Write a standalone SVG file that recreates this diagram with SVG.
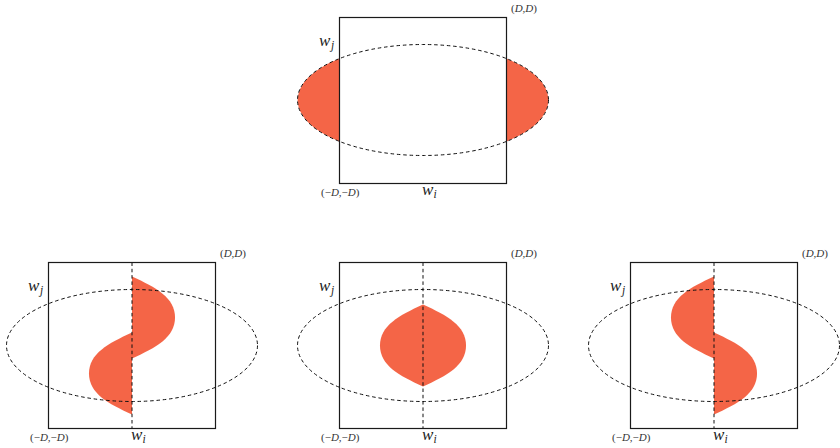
<svg xmlns="http://www.w3.org/2000/svg" width="840" height="448" viewBox="0 0 840 448">
<defs>
<style>
.box{fill:none;stroke:#1a1a1a;stroke-width:1.2}
.dash{fill:none;stroke:#111;stroke-width:1;stroke-dasharray:3.5 2.8}
.red{fill:#f46547;stroke:none}
.w{font-family:"Liberation Serif","DejaVu Serif",serif;font-style:italic;font-size:17px;fill:#222}
.sub{font-family:"Liberation Serif","DejaVu Serif",serif;font-style:italic;font-size:11.5px;fill:#222}
.sm{font-family:"Liberation Serif","DejaVu Serif",serif;font-style:italic;font-size:11px;fill:#333}
.up{font-style:normal}
</style>
<path id="rhalf" d="M0,-41 C24,-30 43,-20 43,0 C43,20 24,30 0,41 Z"/>
<path id="lhalf" d="M0,-41 C-24,-30 -43,-20 -43,0 C-43,20 -24,30 0,41 Z"/>
</defs>

<!-- Top panel -->
<g id="panel-top">
<path class="red" d="M339.5,58.6 A125.5,55.5 0 0 0 339.5,141.4 Z"/>
<path class="red" d="M506.5,58.6 A125.5,55.5 0 0 1 506.5,141.4 Z"/>
<ellipse class="dash" cx="423" cy="100" rx="125.5" ry="55.5"/>
<rect class="box" x="339.5" y="17.5" width="167" height="166"/>
<text class="sm" x="511" y="11.5"><tspan class="up">(</tspan>D,D<tspan class="up">)</tspan></text>
<text class="sm" x="321" y="196"><tspan class="up">(−</tspan>D,<tspan class="up">−</tspan>D<tspan class="up">)</tspan></text>
<text class="w" x="319" y="46">w</text><text class="sub" x="331" y="49">j</text>
<text class="w" x="422" y="195">w</text><text class="sub" x="433.5" y="198">i</text>
</g>

<!-- Bottom left panel -->
<g id="panel-left">
<use href="#rhalf" class="red" x="132" y="317.5"/>
<use href="#lhalf" class="red" x="132" y="373.5"/>
<ellipse class="dash" cx="132" cy="345.5" rx="125.5" ry="56"/>
<line class="dash" x1="132" y1="262.5" x2="132" y2="428.5"/>
<rect class="box" x="48.5" y="262.5" width="167" height="166"/>
<text class="sm" x="220" y="256.5"><tspan class="up">(</tspan>D,D<tspan class="up">)</tspan></text>
<text class="sm" x="30" y="441"><tspan class="up">(−</tspan>D,<tspan class="up">−</tspan>D<tspan class="up">)</tspan></text>
<text class="w" x="28" y="291">w</text><text class="sub" x="40" y="294">j</text>
<text class="w" x="131" y="440">w</text><text class="sub" x="142.5" y="443">i</text>
</g>

<!-- Bottom middle panel -->
<g id="panel-middle">
<use href="#rhalf" class="red" x="423" y="345.5"/>
<use href="#lhalf" class="red" x="423" y="345.5"/>
<ellipse class="dash" cx="423" cy="345.5" rx="125.5" ry="56"/>
<line class="dash" x1="423" y1="262.5" x2="423" y2="428.5"/>
<rect class="box" x="339.5" y="262.5" width="167" height="166"/>
<text class="sm" x="511" y="256.5"><tspan class="up">(</tspan>D,D<tspan class="up">)</tspan></text>
<text class="sm" x="321" y="441"><tspan class="up">(−</tspan>D,<tspan class="up">−</tspan>D<tspan class="up">)</tspan></text>
<text class="w" x="319" y="291">w</text><text class="sub" x="331" y="294">j</text>
<text class="w" x="422" y="440">w</text><text class="sub" x="433.5" y="443">i</text>
</g>

<!-- Bottom right panel -->
<g id="panel-right">
<use href="#lhalf" class="red" x="714" y="317.5"/>
<use href="#rhalf" class="red" x="714" y="373.5"/>
<ellipse class="dash" cx="714" cy="345.5" rx="125.5" ry="56"/>
<line class="dash" x1="714" y1="262.5" x2="714" y2="428.5"/>
<rect class="box" x="630.5" y="262.5" width="167" height="166"/>
<text class="sm" x="802" y="256.5"><tspan class="up">(</tspan>D,D<tspan class="up">)</tspan></text>
<text class="sm" x="612" y="441"><tspan class="up">(−</tspan>D,<tspan class="up">−</tspan>D<tspan class="up">)</tspan></text>
<text class="w" x="610" y="291">w</text><text class="sub" x="622" y="294">j</text>
<text class="w" x="713" y="440">w</text><text class="sub" x="724.5" y="443">i</text>
</g>
</svg>
